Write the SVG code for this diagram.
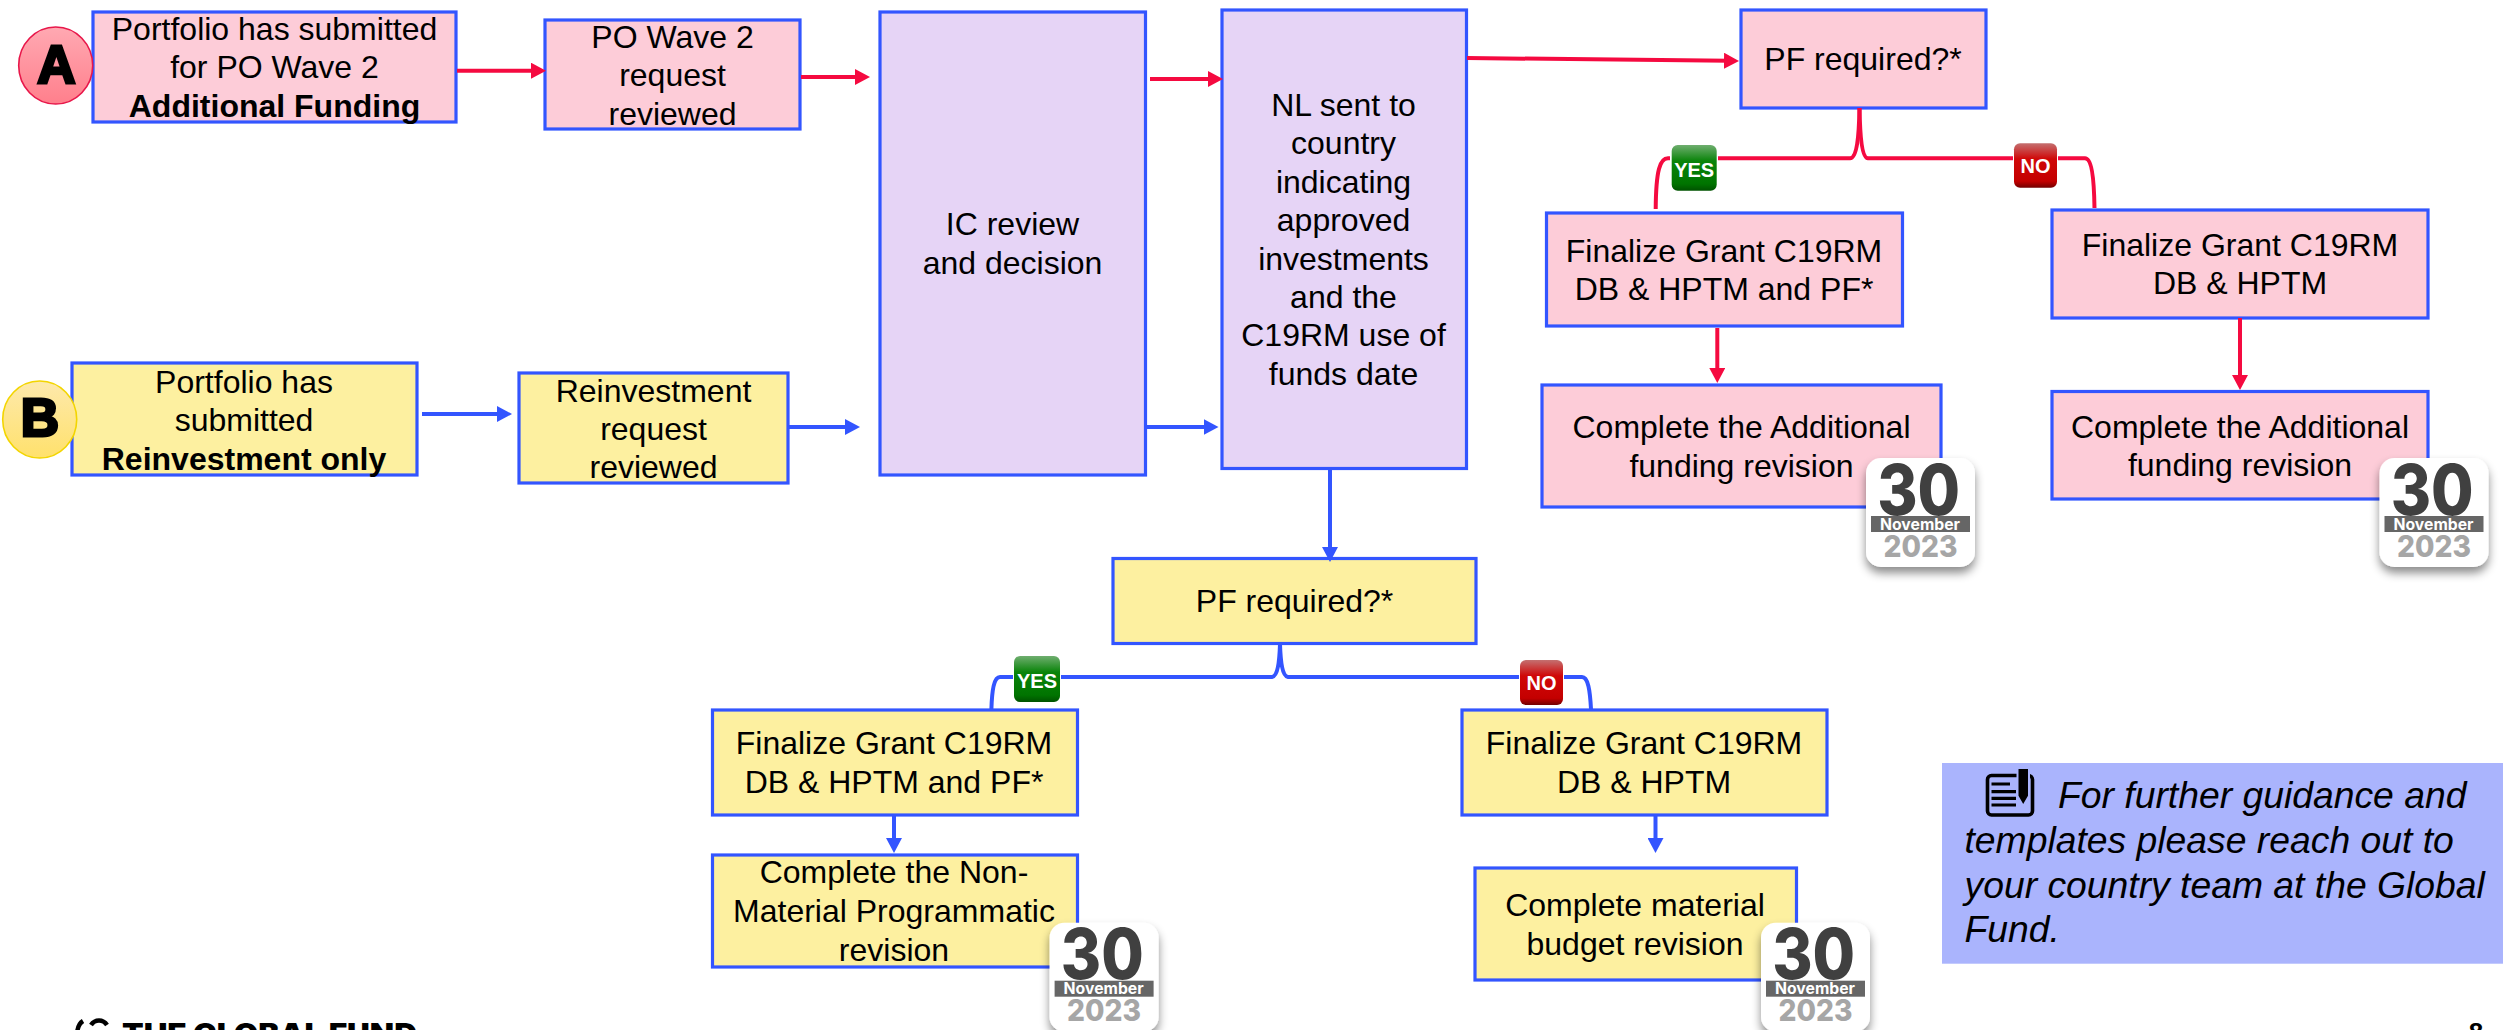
<svg xmlns="http://www.w3.org/2000/svg" width="2503" height="1030" viewBox="0 0 2503 1030">
<style>
text{font-family:"Liberation Sans",Arial,sans-serif;fill:#000}
.t{font-size:32px;text-anchor:middle}
.b{font-weight:700}
.box{stroke:#3355ff;stroke-width:3.2}
.pink{fill:#fdccd8}.yellow{fill:#fdf0a0}.lav{fill:#e6d4f6}
.r,.u{fill:none;stroke-linecap:butt}
.r{stroke:#f50a40;stroke-width:4}
.u{stroke:#3355ff;stroke-width:4}
.ra{marker-end:url(#hr)}.ua{marker-end:url(#hu)}
.tag{fill:#fff;font-weight:700;text-anchor:middle;font-size:20px}
.letter{font-weight:700;font-size:53px;text-anchor:middle;stroke:#000;stroke-width:3;stroke-linejoin:miter}
.card{fill:#fff;filter:url(#sh)}
.d30{font-family:Inter,"Liberation Sans",sans-serif;font-weight:800;font-size:70px;fill:#404040;text-anchor:middle}
.dm{font-family:Inter,"Liberation Sans",sans-serif;font-weight:700;font-size:16px;fill:#fff;text-anchor:middle}
.dy{font-family:Inter,"Liberation Sans",sans-serif;font-weight:800;font-size:30px;fill:#a6a6a6;text-anchor:middle}
.bar{fill:#666}
.note{font-size:37.3px;font-style:italic}
</style>
<defs>
<marker id="hr" viewBox="0 0 15 16" refX="5" refY="8" markerWidth="15" markerHeight="16" markerUnits="userSpaceOnUse" orient="auto"><path d="M0 0L15 8L0 16z" fill="#f50a40"/></marker>
<marker id="hu" viewBox="0 0 15 16" refX="5" refY="8" markerWidth="15" markerHeight="16" markerUnits="userSpaceOnUse" orient="auto"><path d="M0 0L15 8L0 16z" fill="#3355ff"/></marker>
<linearGradient id="ga" x1="0" y1="0" x2="0" y2="1"><stop offset="0" stop-color="#ffa9b2"/><stop offset="1" stop-color="#ff7f8c"/></linearGradient>
<linearGradient id="gb" x1="0" y1="0" x2="0" y2="1"><stop offset="0" stop-color="#fde9ac"/><stop offset="1" stop-color="#ffe16c"/></linearGradient>
<linearGradient id="gy" x1="0" y1="0" x2="0" y2="1"><stop offset="0" stop-color="#6fae6f"/><stop offset=".35" stop-color="#0a840a"/><stop offset=".85" stop-color="#007400"/><stop offset="1" stop-color="#005200"/></linearGradient>
<linearGradient id="gn" x1="0" y1="0" x2="0" y2="1"><stop offset="0" stop-color="#c47070"/><stop offset=".35" stop-color="#d00808"/><stop offset=".85" stop-color="#c40000"/><stop offset="1" stop-color="#720000"/></linearGradient>
<filter id="sh" x="-20%" y="-20%" width="140%" height="140%"><feDropShadow dx="0" dy="6" stdDeviation="5" flood-color="#000" flood-opacity=".45"/></filter>
</defs>
<rect width="2503" height="1030" fill="#fff"/>

<g id="node-a-start"><rect class="box pink" x="93" y="12" width="363" height="110"/><text class="t" x="274.5" y="40">Portfolio has submitted</text><text class="t" x="274.5" y="78">for PO Wave 2</text><text class="t b" x="274.5" y="117">Additional Funding</text></g>
<g id="marker-a"><ellipse cx="55.7" cy="65.5" rx="37" ry="38.5" fill="url(#ga)" stroke="#e8174a" stroke-width="1.6"/><text class="letter" x="56.5" y="83">A</text></g>
<g id="node-a-review"><rect class="box pink" x="545" y="20" width="255" height="109"/><text class="t" x="672.5" y="47.5">PO Wave 2</text><text class="t" x="672.5" y="86">request</text><text class="t" x="672.5" y="124.5">reviewed</text></g>
<g id="node-b-start"><rect class="box yellow" x="72" y="363" width="345" height="112"/><text class="t" x="244" y="393">Portfolio has</text><text class="t" x="244" y="431">submitted</text><text class="t b" x="244" y="469.5">Reinvestment only</text></g>
<g id="marker-b"><ellipse cx="39.7" cy="419.5" rx="37" ry="38.5" fill="url(#gb)" stroke="#f3d500" stroke-width="1.6"/><text class="letter" x="40" y="436">B</text></g>
<g id="node-b-review"><rect class="box yellow" x="519" y="373" width="269" height="110"/><text class="t" x="653.5" y="402">Reinvestment</text><text class="t" x="653.5" y="440">request</text><text class="t" x="653.5" y="478">reviewed</text></g>
<g id="node-ic"><rect class="box lav" x="880" y="12" width="265.500" height="463"/><text class="t" x="1012.5" y="235">IC review</text><text class="t" x="1012.5" y="274.300">and decision</text></g>
<g id="node-nl"><rect class="box lav" x="1222" y="10" width="244.500" height="458.500"/><text class="t" x="1343.500" y="116">NL sent to</text><text class="t" x="1343.500" y="154.300">country</text><text class="t" x="1343.500" y="192.900">indicating</text><text class="t" x="1343.500" y="231.400">approved</text><text class="t" x="1343.500" y="269.600">investments</text><text class="t" x="1343.500" y="307.900">and the</text><text class="t" x="1343.500" y="346.400">C19RM use of</text><text class="t" x="1343.500" y="385">funds date</text></g>
<g id="node-a-pf"><rect class="box pink" x="1741" y="10" width="245" height="98"/><text class="t" x="1863" y="70">PF required?*</text></g>
<g id="node-a-final-yes"><rect class="box pink" x="1546.500" y="213" width="356" height="113"/><text class="t" x="1724" y="262">Finalize Grant C19RM</text><text class="t" x="1724" y="300">DB &amp; HPTM and PF*</text></g>
<g id="node-a-final-no"><rect class="box pink" x="2052" y="210" width="376" height="108"/><text class="t" x="2240" y="256">Finalize Grant C19RM</text><text class="t" x="2240" y="294">DB &amp; HPTM</text></g>
<g id="node-a-complete-yes"><rect class="box pink" x="1542" y="385" width="399" height="122"/><text class="t" x="1741.500" y="437.700">Complete the Additional</text><text class="t" x="1741.500" y="476.500">funding revision</text></g>
<g id="node-a-complete-no"><rect class="box pink" x="2052" y="391.500" width="376" height="107.500"/><text class="t" x="2240" y="437.700">Complete the Additional</text><text class="t" x="2240" y="476">funding revision</text></g>
<g id="node-b-pf"><rect class="box yellow" x="1113" y="558.500" width="363" height="85"/><text class="t" x="1294.500" y="612">PF required?*</text></g>
<g id="node-b-final-yes"><rect class="box yellow" x="712.500" y="710" width="365" height="105"/><text class="t" x="894" y="754">Finalize Grant C19RM</text><text class="t" x="894" y="793">DB &amp; HPTM and PF*</text></g>
<g id="node-b-final-no"><rect class="box yellow" x="1462" y="710" width="365" height="105"/><text class="t" x="1644" y="754">Finalize Grant C19RM</text><text class="t" x="1644" y="793">DB &amp; HPTM</text></g>
<g id="node-b-complete-yes"><rect class="box yellow" x="712.500" y="855" width="365" height="112"/><text class="t" x="894" y="883">Complete the Non-</text><text class="t" x="894" y="921.700">Material Programmatic</text><text class="t" x="894" y="960.700">revision</text></g>
<g id="node-b-complete-no"><rect class="box yellow" x="1475" y="868" width="321.500" height="112"/><text class="t" x="1635" y="916">Complete material</text><text class="t" x="1635" y="955">budget revision</text></g>

<g id="connectors">
<path class="r ra" d="M457 70.700H536"/>
<path class="r ra" d="M801 77H860"/>
<path class="r ra" d="M1150 79H1213"/>
<path class="r ra" d="M1467 58L1729 60.800"/>
<path class="r" d="M1859.500 108C1859 135 1857 158 1850 158.300L1668 158.300C1660 158.300 1656 170 1655.700 209"/>
<path class="r" d="M1859.500 108C1860 135 1862 158 1868 158.300L2085 158.300C2091 158.300 2094 175 2094.500 208"/>
<path class="r ra" d="M1717.300 328V373"/>
<path class="r ra" d="M2240 318V380"/>
<path class="u ua" d="M422 414H502"/>
<path class="u ua" d="M789 427H850"/>
<path class="u ua" d="M1146 427H1208.500"/>
<path class="u ua" d="M1330 469V552"/>
<path class="u" d="M1280 644C1279.500 660 1278 676 1272 677L1000 677C994 677 992 690 991.400 709"/>
<path class="u" d="M1280 644C1280.500 660 1282 676 1288 677L1582 677C1588 677 1590 690 1591 709"/>
<path class="u ua" d="M894 815V843"/>
<path class="u ua" d="M1655.500 815V843"/>
</g>

<g id="badge-a-yes"><rect x="1670" y="144" width="48" height="48" fill="#fff"/><rect x="1671.700" y="145" width="45" height="45.700" rx="6" fill="url(#gy)"/><text class="tag" x="1694.200" y="176.700">YES</text></g>
<g id="badge-a-no"><rect x="2013" y="142.500" width="45" height="46" fill="#fff"/><rect x="2014" y="143.300" width="43" height="44.500" rx="6" fill="url(#gn)"/><text class="tag" x="2035.500" y="173.300">NO</text></g>
<g id="badge-b-yes"><rect x="1013" y="655" width="48" height="48" fill="#fff"/><rect x="1014" y="656" width="46" height="46" rx="6" fill="url(#gy)"/><text class="tag" x="1037" y="687.700">YES</text></g>
<g id="badge-b-no"><rect x="1519" y="659" width="45" height="47" fill="#fff"/><rect x="1520" y="660" width="43" height="45" rx="6" fill="url(#gn)"/><text class="tag" x="1541.500" y="690">NO</text></g>

<g id="date-1" transform="translate(1866 458)"><rect class="card" width="109" height="109" rx="15"/><text class="d30" x="52.700" y="56.500" textLength="83" lengthAdjust="spacingAndGlyphs">30</text><rect class="bar" x="5" y="58" width="99" height="16"/><text class="dm" x="54" y="71.500" textLength="80" lengthAdjust="spacingAndGlyphs">November</text><text class="dy" x="54.500" y="98.700" textLength="74" lengthAdjust="spacingAndGlyphs">2023</text></g>
<g id="date-2" transform="translate(2379.500 458)"><rect class="card" width="109" height="109" rx="15"/><text class="d30" x="52.700" y="56.500" textLength="83" lengthAdjust="spacingAndGlyphs">30</text><rect class="bar" x="5" y="58" width="99" height="16"/><text class="dm" x="54" y="71.500" textLength="80" lengthAdjust="spacingAndGlyphs">November</text><text class="dy" x="54.500" y="98.700" textLength="74" lengthAdjust="spacingAndGlyphs">2023</text></g>
<g id="date-3" transform="translate(1049.600 922.700)"><rect class="card" width="109" height="109" rx="15"/><text class="d30" x="52.700" y="56.500" textLength="83" lengthAdjust="spacingAndGlyphs">30</text><rect class="bar" x="5" y="58" width="99" height="16"/><text class="dm" x="54" y="71.500" textLength="80" lengthAdjust="spacingAndGlyphs">November</text><text class="dy" x="54.500" y="98.700" textLength="74" lengthAdjust="spacingAndGlyphs">2023</text></g>
<g id="date-4" transform="translate(1761 922.700)"><rect class="card" width="109" height="109" rx="15"/><text class="d30" x="52.700" y="56.500" textLength="83" lengthAdjust="spacingAndGlyphs">30</text><rect class="bar" x="5" y="58" width="99" height="16"/><text class="dm" x="54" y="71.500" textLength="80" lengthAdjust="spacingAndGlyphs">November</text><text class="dy" x="54.500" y="98.700" textLength="74" lengthAdjust="spacingAndGlyphs">2023</text></g>

<g id="note">
<rect x="1942" y="763" width="561" height="200.700" fill="#aab4fd"/>
<rect x="1987.500" y="775.500" width="45" height="39.500" rx="4" fill="none" stroke="#000" stroke-width="3.600"/>
<path d="M1991.500 784H2010M1991.500 791.700H2016M1991.500 798.300H2016M1991.500 805H2016" stroke="#000" stroke-width="3.200" fill="none"/>
<path d="M2017.500 768H2029V796L2023.200 806L2017.500 796z" fill="#000" stroke="#aab4fd" stroke-width="2"/>
<text class="note" x="2058" y="808.300">For further guidance and</text>
<text class="note" x="1964.500" y="853.300">templates please reach out to</text>
<text class="note" x="1964.500" y="898.300">your country team at the Global</text>
<text class="note" x="1964.500" y="942.300">Fund.</text>
</g>

<g id="footer">
<path d="M83 1021C78 1024 77 1030 77 1036" fill="none" stroke="#000" stroke-width="4.500"/>
<path d="M91 1025C95 1019 103 1019 107 1025" fill="none" stroke="#000" stroke-width="4.500"/>
<text x="122" y="1043.500" font-size="28" font-weight="900" textLength="295" lengthAdjust="spacingAndGlyphs" style="font-family:Inter,'Liberation Sans',sans-serif">THE GLOBAL FUND</text>
<text x="2476" y="1041" font-size="26" font-weight="700" text-anchor="middle">8</text>
</g>
</svg>
